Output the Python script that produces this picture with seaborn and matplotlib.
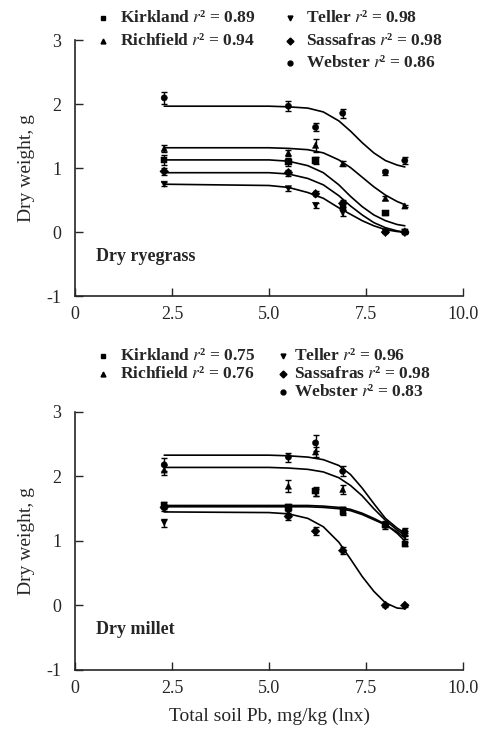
import numpy as np
import pandas as pd
import matplotlib
matplotlib.use("Agg")
import matplotlib.pyplot as plt
import seaborn as sns

# measured points (ln of total soil Pb)
x_obs = [2.3, 5.5, 6.2, 6.9, 8.0, 8.5]
# points
x_fit = [2.3, 5.0, 5.5, 6.0, 6.4, 6.8, 7.1, 7.4, 7.7, 8.0, 8.3, 8.5]

soils = ["Kirkland", "Richfield", "Teller", "Sassafras", "Webster"]
markers = {"Kirkland": "s", "Richfield": "^", "Teller": "v", "Sassafras": "D", "Webster": "o"}

# ryegrass
rye_r2 = [0.89, 0.94, 0.98, 0.98, 0.86]
rye_obs = {
    "Kirkland": [1.13, 1.10, 1.12, 0.40, 0.30, 0.00],
    "Richfield": [1.31, 1.24, 1.36, 1.07, 0.53, 0.41],
    "Teller": [0.75, 0.68, 0.42, 0.30, 0.00, 0.00],
    "Sassafras": [0.95, 0.93, 0.60, 0.45, 0.00, 0.00],
    "Webster": [2.10, 1.97, 1.64, 1.86, 0.94, 1.12],
}
rye_err = {
    "Kirkland": [0.08, 0.06, 0.05, 0.05, 0.03, 0.02],
    "Richfield": [0.05, 0.05, 0.10, 0.04, 0.03, 0.02],
    "Teller": [0.03, 0.03, 0.04, 0.05, 0.02, 0.02],
    "Sassafras": [0.06, 0.05, 0.04, 0.06, 0.02, 0.02],
    "Webster": [0.09, 0.08, 0.06, 0.07, 0.04, 0.05],
}
rye_fit = {
    "Kirkland": [1.13, 1.13, 1.11, 1.04, 0.93, 0.74, 0.56, 0.40, 0.27, 0.18, 0.12, 0.10],
    "Richfield": [1.32, 1.32, 1.31, 1.29, 1.24, 1.13, 1.01, 0.86, 0.71, 0.58, 0.48, 0.43],
    "Teller": [0.75, 0.73, 0.70, 0.62, 0.53, 0.38, 0.28, 0.18, 0.10, 0.04, 0.01, 0.00],
    "Sassafras": [0.93, 0.93, 0.91, 0.84, 0.74, 0.57, 0.41, 0.27, 0.15, 0.07, 0.02, 0.00],
    "Webster": [1.97, 1.97, 1.96, 1.94, 1.88, 1.74, 1.58, 1.40, 1.24, 1.12, 1.05, 1.02],
}

# millet
mil_r2 = [0.75, 0.76, 0.96, 0.98, 0.83]
mil_obs = {
    "Kirkland": [1.55, 1.52, 1.77, 1.45, 1.25, 0.95],
    "Richfield": [2.10, 1.85, 2.38, 1.80, 1.27, 1.12],
    "Teller": [1.28, 1.45, 1.75, 1.48, 1.22, 1.08],
    "Sassafras": [1.52, 1.38, 1.15, 0.85, 0.00, 0.00],
    "Webster": [2.18, 2.30, 2.52, 2.08, 1.25, 1.15],
}
mil_err = {
    "Kirkland": [0.06, 0.06, 0.07, 0.04, 0.04, 0.03],
    "Richfield": [0.08, 0.09, 0.08, 0.07, 0.04, 0.04],
    "Teller": [0.06, 0.08, 0.05, 0.04, 0.04, 0.05],
    "Sassafras": [0.05, 0.05, 0.06, 0.06, 0.02, 0.02],
    "Webster": [0.10, 0.07, 0.12, 0.08, 0.04, 0.05],
}
mil_fit = {
    "Kirkland": [1.55, 1.55, 1.55, 1.55, 1.54, 1.52, 1.49, 1.43, 1.35, 1.26, 1.12, 1.00],
    "Richfield": [2.14, 2.14, 2.13, 2.11, 2.07, 1.98, 1.86, 1.70, 1.50, 1.32, 1.17, 1.09],
    "Teller": [1.53, 1.53, 1.53, 1.53, 1.52, 1.50, 1.47, 1.41, 1.33, 1.25, 1.14, 1.05],
    "Sassafras": [1.45, 1.44, 1.42, 1.35, 1.22, 0.98, 0.72, 0.45, 0.22, 0.04, -0.04, -0.05],
    "Webster": [2.33, 2.33, 2.32, 2.30, 2.26, 2.17, 2.03, 1.82, 1.58, 1.35, 1.20, 1.12],
}

sns.set_style("ticks")
plt.rcParams["font.family"] = ["Liberation Serif", "DejaVu Serif"]
plt.rcParams["mathtext.fontset"] = "stix"
plt.rcParams["axes.unicode_minus"] = False

W, H = 490, 733
fig = plt.figure(figsize=(W / 100, H / 100), dpi=100)
ax_top = fig.add_axes([0.153, 0.596, 0.792, 0.349])
ax_bot = fig.add_axes([0.153, 0.086, 0.792, 0.352])


def key_entry(soil, r2, mx, tx, y):
    # one key line: marker + label, placed in figure pixels
    fig.add_artist(plt.Line2D([mx / W], [1 - y / H], ls="none", marker=markers[soil],
                              color="black", ms=3.5, transform=fig.transFigure))
    fig.text(tx / W, 1 - y / H, f"{soil} $r$\u00b2 = {r2:.2f}", fontsize=12.5,
             weight="bold", va="center", ha="left")


def draw_panel(ax, obs, err, fit, r2, name, rows, col2):
    fit_df = pd.DataFrame([(s, x, y) for s in soils for x, y in zip(x_fit, fit[s])],
                          columns=["soil", "x", "y"])
    obs_df = pd.DataFrame([(s, x, y) for s in soils for x, y in zip(x_obs, obs[s])],
                          columns=["soil", "x", "y"])
    sns.lineplot(data=fit_df, x="x", y="y", units="soil", estimator=None,
                 color="black", lw=1.2, ax=ax, legend=False)
    for s in soils:
        ax.errorbar(x_obs, obs[s], yerr=err[s], fmt="none", ecolor="black",
                    elinewidth=1.0, capsize=2, capthick=1.0)
    sns.scatterplot(data=obs_df, x="x", y="y", style="soil", markers=markers,
                    color="black", s=20, edgecolor="black", ax=ax, legend=False)

    ax.set_xlim(0, 10)
    ax.set_ylim(-1, 3)
    ax.set_xticks([0, 2.5, 5.0, 7.5, 10.0])
    ax.set_xticklabels(["0", "2.5", "5.0", "7.5", "10.0"])
    ax.set_yticks([-1, 0, 1, 2, 3])
    ax.tick_params(direction="in", length=6, width=1, labelsize=13, pad=7)
    ax.tick_params(axis="y", pad=10)
    sns.despine(ax=ax)
    for sp in ax.spines.values():
        sp.set_linewidth(1.2)
    ax.set_xlabel("")
    ax.set_ylabel("Dry weight, g", fontsize=14, labelpad=8)
    ax.text(0.55, -0.38, name, fontsize=13, weight="bold", va="center")

    key_entry(soils[0], r2[0], 103, 120, rows[0])
    key_entry(soils[1], r2[1], 103, 120, rows[1])
    key_entry(soils[2], r2[2], col2[0], col2[1], rows[0])
    key_entry(soils[3], r2[3], col2[0], col2[1], rows[1])
    key_entry(soils[4], r2[4], col2[0], col2[1], rows[2])


draw_panel(ax_top, rye_obs, rye_err, rye_fit, rye_r2, "Dry ryegrass",
           rows=[18, 41, 63], col2=(290, 306))
draw_panel(ax_bot, mil_obs, mil_err, mil_fit, mil_r2, "Dry millet",
           rows=[356, 374, 392], col2=(283, 294))
ax_bot.set_xlabel("Total soil Pb, mg/kg (lnx)", fontsize=14, labelpad=8)

fig.savefig("out.png", dpi=100)
